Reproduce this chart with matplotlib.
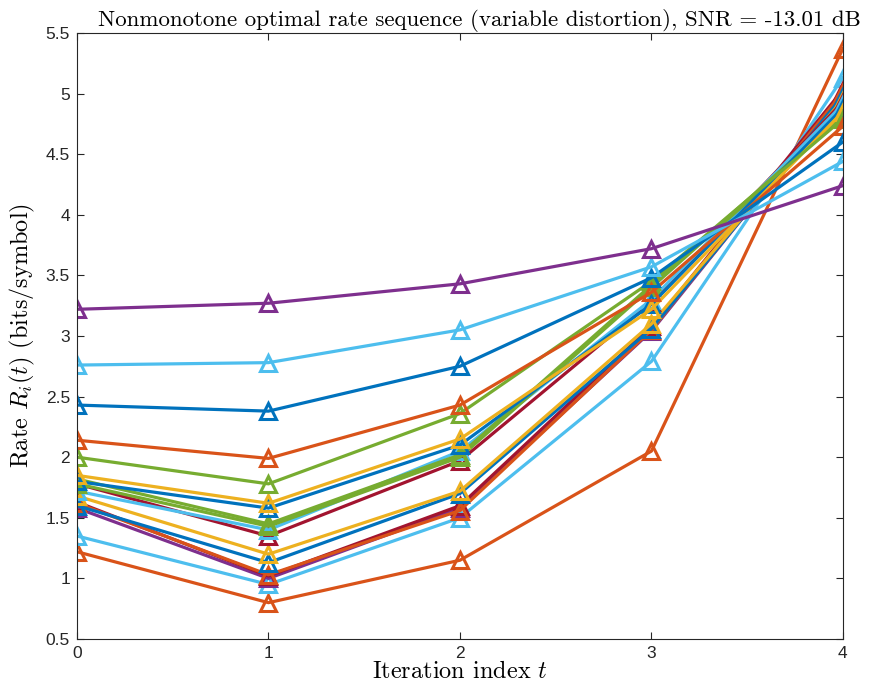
import numpy as np
import matplotlib
matplotlib.use("Agg")
import matplotlib.pyplot as plt

# iteration index
t = [0, 1, 2, 3, 4]

# rate sequences R_i(t) in bits/symbol, one list per user
rates = [
    [3.22, 3.27, 3.43, 3.72, 4.24],
    [2.76, 2.78, 3.05, 3.57, 4.44],
    [2.43, 2.38, 2.75, 3.48, 4.60],
    [2.14, 1.99, 2.43, 3.36, 4.73],
    [2.00, 1.78, 2.36, 3.45, 4.79],
    [1.85, 1.62, 2.15, 3.22, 4.85],
    [1.80, 1.58, 2.10, 3.26, 4.88],
    [1.82, 1.45, 2.02, 3.42, 4.82],
    [1.78, 1.43, 2.00, 3.40, 4.81],
    [1.72, 1.40, 2.05, 3.30, 4.91],
    [1.78, 1.35, 1.97, 3.28, 4.93],
    [1.68, 1.20, 1.72, 3.10, 4.95],
    [1.60, 1.13, 1.70, 3.06, 4.98],
    [1.62, 1.03, 1.56, 3.05, 5.01],
    [1.63, 1.02, 1.60, 3.08, 5.03],
    [1.58, 1.00, 1.58, 3.04, 5.00],
    [1.35, 0.95, 1.50, 2.79, 5.13],
    [1.22, 0.80, 1.15, 2.05, 5.37],
]

line_colors = [
    "#7E2F8E", "#4DBEEE", "#0072BD", "#D95319", "#77AC30", "#EDB120",
    "#0072BD", "#77AC30", "#77AC30", "#4DBEEE", "#A2142F", "#EDB120",
    "#0072BD", "#D95319", "#A2142F", "#7E2F8E", "#4DBEEE", "#D95319",
]

plt.rcParams["mathtext.fontset"] = "cm"
serif = {"family": "serif", "fontname": "cmr10"}

fig = plt.figure(figsize=(8.78, 7.0), dpi=100)
ax = fig.add_axes([0.0877, 0.0871, 0.8723, 0.8659])

# draw in reverse so the upper curves sit on top
for r, c in reversed(list(zip(rates, line_colors))):
    ax.plot(t, r, color=c, lw=2.3, marker="^", markersize=12,
            markerfacecolor="none", markeredgewidth=2.2)

ax.set_xlim(0, 4)
ax.set_ylim(0.5, 5.5)
ax.set_xticks(t)
ax.set_yticks(np.arange(0.5, 5.51, 0.5))
ax.set_yticklabels(["0.5", "1", "1.5", "2", "2.5", "3", "3.5", "4", "4.5", "5", "5.5"])

for lab in ax.get_xticklabels() + ax.get_yticklabels():
    lab.set_fontfamily("Liberation Sans")
    lab.set_fontsize(12.5)
    lab.set_color("#262626")

ax.tick_params(direction="in", top=True, right=True, length=5, width=0.8,
               color="#262626", pad=5)
for s in ax.spines.values():
    s.set_color("#262626")
    s.set_linewidth(0.8)

ax.set_xlabel(r"Iteration index $t$", fontsize=17.5, labelpad=0, **serif)
ax.set_ylabel(r"Rate $R_i(t)$ (bits/symbol)", fontsize=17.5, labelpad=6, **serif)
ax.set_title("Nonmonotone optimal rate sequence (variable distortion), SNR = -13.01 dB",
             fontsize=16.5, pad=5, x=0.525, **serif)

fig.savefig("out.png", dpi=100)
